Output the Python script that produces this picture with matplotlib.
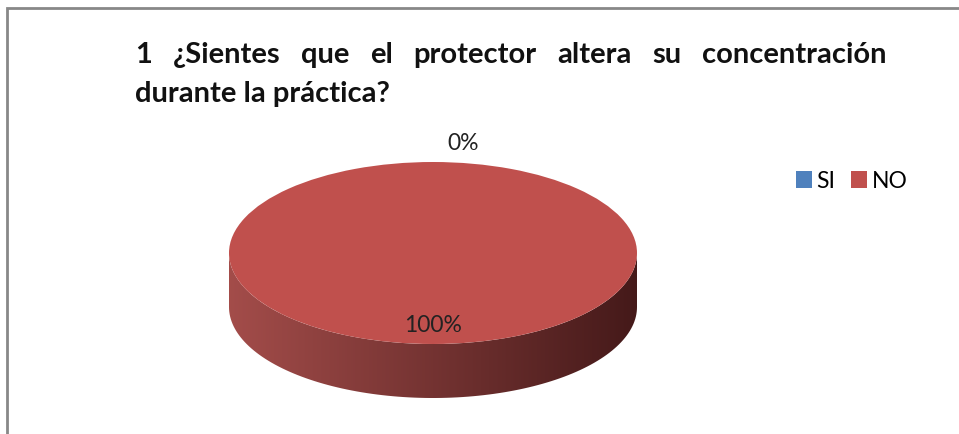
import matplotlib
matplotlib.use("Agg")
import matplotlib.pyplot as plt
from matplotlib.patches import Polygon, Rectangle
import numpy as np

# data
labels = ["SI", "NO"]
values = [0, 100]
colors = ["#4f81bd", "#c0504d"]
title_line1 = "1 ¿Sientes que el protector altera su concentración"
title_line2 = "durante la práctica?"

W, H = 959, 434
plt.rcParams['font.family'] = ['Lato', 'DejaVu Sans']

fig = plt.figure(figsize=(W / 100, H / 100), dpi=100)

# frame around the chart area
fig.patches.append(Rectangle((7 / W, -0.1), 1.2, (H - 8) / H + 0.1, transform=fig.transFigure,
                             fill=False, edgecolor="#888888", linewidth=2))

# pie axes: centre (433, 253) px, radii 204 x 91 px
cx, cy, rx, ry = 433, 253, 204, 91
xl, yl = (-1.1, 1.1), (-1.7, 1.3)
ax = fig.add_axes([(cx + xl[0] * rx) / W, (H - cy + yl[0] * ry) / H,
                   (xl[1] - xl[0]) * rx / W, (yl[1] - yl[0]) * ry / H])
wedges, texts, autotexts = ax.pie(values, colors=colors, startangle=90, counterclock=False,
                                  autopct='%1.0f%%', pctdistance=0.8,
                                  wedgeprops=dict(linewidth=0),
                                  textprops=dict(fontsize=16.5, color="#222222"))
ax.set_aspect('auto')
ax.set_xlim(*xl)
ax.set_ylim(*yl)
ax.axis('off')
autotexts[0].set_position((0.15, 1.2))
for w in wedges:
    w.set_zorder(3)

# extruded side, front half only
depth = 54 / ry
for w in wedges:
    t1, t2 = sorted([w.theta1, w.theta2])
    for off in (-360, 0, 360):
        a, b = max(t1 + off, 180), min(t2 + off, 360)
        if b <= a:
            continue
        t = np.radians(np.linspace(a, b, 120))
        top = np.column_stack([np.cos(t), np.sin(t)])
        bot = top[::-1] - [0, depth]
        poly = Polygon(np.vstack([top, bot]), closed=True, facecolor='none', edgecolor='none')
        ax.add_patch(poly)
        c0 = np.array([0.64, 0.30, 0.29])
        c1 = np.array([0.27, 0.10, 0.10])
        g = np.linspace(0, 1, 256)[None, :, None]
        img = c0 + (c1 - c0) * g
        im = ax.imshow(img, extent=(-1, 1, -1 - depth, 0.01), aspect='auto', zorder=2)
        im.set_clip_path(poly)
ax.set_xlim(*xl)
ax.set_ylim(*yl)

# legend
fig.legend(wedges, labels, ncol=2, frameon=False, loc='center left',
           bbox_to_anchor=(796 / W, 1 - 181 / H), fontsize=16.5,
           handlelength=0.7, handleheight=0.7, handletextpad=0.18, columnspacing=0.7,
           borderaxespad=0, borderpad=0)

# justified title
left, right = 135 / W, 887 / W
y1, y2 = 1 - 63 / H, 1 - 102 / H
words = title_line1.split(" ")
fig.canvas.draw()
r = fig.canvas.get_renderer()
objs = [fig.text(0, y1, wd, fontsize=21, fontweight='bold', color="#111111") for wd in words]
widths = [o.get_window_extent(r).width / W for o in objs]
gap = (right - left - sum(widths)) / (len(words) - 1)
x = left
for o, wdt in zip(objs, widths):
    o.set_x(x)
    x += wdt + gap
fig.text(left, y2, title_line2, fontsize=21, fontweight='bold', color="#111111")

fig.savefig("out.png", dpi=100)
